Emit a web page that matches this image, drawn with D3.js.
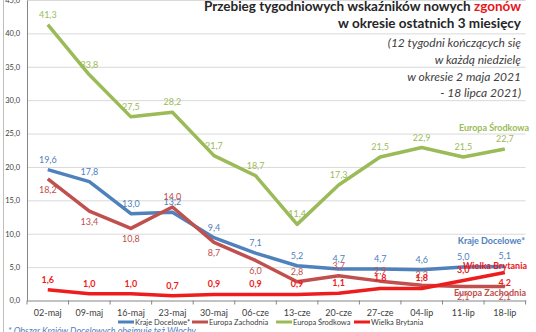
<!DOCTYPE html>
<head>
  <meta charset="utf-8">
  <title>Zgony - wskazniki tygodniowe</title>
  <script src="https://cdn.jsdelivr.net/npm/d3@7"></script>
  <style>
    body { margin: 0; background: #fff; }
    text { font-family: Lato, 'Open Sans', sans-serif; }
    .grid line { stroke: #d9d9d9; stroke-width: 1; }
    .grid path { stroke: none; }
  </style>
</head>
<body>
<script>
  // tygodnie (niedziele)
  var weeks = ["02-maj", "09-maj", "16-maj", "23-maj", "30-maj", "06-cze",
               "13-cze", "20-cze", "27-cze", "04-lip", "11-lip", "18-lip"];

  // wartosci serii
  var krajeDocelowe   = [19.6, 17.8, 13.0, 13.2, 9.4, 7.1, 5.2, 4.7, 4.7, 4.6, 5.0, 5.1];
  var europaZachodnia = [18.2, 13.4, 10.8, 14.0, 8.7, 6.0, 2.8, 3.7, 2.9, 2.3, 2.1, 2.1];
  var europaSrodkowa  = [41.3, 33.8, 27.5, 28.2, 21.7, 18.7, 11.4, 17.3, 21.5, 22.9, 21.5, 22.7];
  var wielkaBrytania  = [1.6, 1.0, 1.0, 0.7, 0.9, 0.9, 0.9, 1.1, 1.8, 1.8, 3.0, 4.2];

  var yTicks = [0, 5, 10, 15, 20, 25, 30, 35, 40, 45];

  // gdzie stoi etykieta danych: a = nad punktem, b = pod punktem
  var posKD = "aaaaaaaaaaaa".split("");
  var posEZ = "bbbabbaaaabb".split("");
  var posES = "aaaaaaaaaaaa".split("");
  var posWB = "aaaaaaaaaaab".split("");

  var series = [
    { name: "Kraje Docelowe*",  values: krajeDocelowe,   color: "#4f81bd", pos: posKD, bold: false },
    { name: "Europa Zachodnia", values: europaZachodnia, color: "#c0504d", pos: posEZ, bold: false },
    { name: "Europa Środkowa",  values: europaSrodkowa,  color: "#9bbb59", pos: posES, bold: false },
    { name: "Wielka Brytania",  values: wielkaBrytania,  color: "#ee1c1c", pos: posWB, bold: true }
  ];

  var W = 536, H = 332;
  var plotL = 27, plotR = 525.6, plotT = 0, plotB = 300.5;

  var svg = d3.select("body").append("svg")
    .attr("width", W)
    .attr("height", H);

  // ramka wykresu (lewa krawedz)
  svg.append("line")
    .attr("x1", 3.5).attr("x2", 3.5).attr("y1", 0).attr("y2", H)
    .attr("stroke", "#bfbfbf");

  var x = d3.scaleBand().domain(weeks).range([plotL, plotR]).padding(0);
  var y = d3.scaleLinear().domain([0, 45]).range([plotB, plotT]);
  var cx = function (i) { return x(weeks[i]) + x.bandwidth() / 2; };

  // siatka
  svg.append("g")
    .attr("class", "grid")
    .attr("transform", "translate(" + plotL + ",0)")
    .call(d3.axisLeft(y).tickValues(yTicks.slice(1)).tickSize(-(plotR - plotL)).tickFormat(""));

  // os Y
  var fmt = function (v) { return d3.format(".1f")(v).replace(".", ","); };
  var yAxis = svg.append("g")
    .attr("transform", "translate(" + plotL + ",0)")
    .call(d3.axisLeft(y).tickValues(yTicks).tickSize(0).tickPadding(7).tickFormat(fmt));
  yAxis.select(".domain").attr("stroke", "#868686");
  yAxis.selectAll("text")
    .style("font-size", "7.5px")
    .style("fill", "#404040");

  // os X
  var xAxis = svg.append("g")
    .attr("transform", "translate(0," + plotB + ")")
    .call(d3.axisBottom(x).tickSize(0).tickPadding(9));
  xAxis.select(".domain").attr("stroke", "#868686");
  xAxis.selectAll("text")
    .style("font-size", "9px")
    .style("fill", "#404040");
  // kreski podzialki na granicach kategorii
  svg.append("g").selectAll("line")
    .data(d3.range(weeks.length + 1))
    .enter().append("line")
    .attr("x1", function (i) { return plotL + i * x.bandwidth(); })
    .attr("x2", function (i) { return plotL + i * x.bandwidth(); })
    .attr("y1", plotB)
    .attr("y2", plotB + 4)
    .attr("stroke", "#868686");

  // linie
  var line = d3.line()
    .x(function (d, i) { return cx(i); })
    .y(function (d) { return y(d); });

  svg.append("g").selectAll("path")
    .data(series)
    .enter().append("path")
    .attr("d", function (s) { return line(s.values); })
    .attr("fill", "none")
    .attr("stroke", function (s) { return s.color; })
    .attr("stroke-width", 3.5)
    .attr("stroke-linejoin", "round");

  // etykiety danych
  series.forEach(function (s) {
    svg.append("g").selectAll("text")
      .data(s.values)
      .enter().append("text")
      .attr("x", function (d, i) { return cx(i); })
      .attr("y", function (d, i) { return y(d) + (s.pos[i] === "a" ? -7 : 14); })
      .attr("text-anchor", "middle")
      .style("font-size", "9px")
      .style("font-weight", s.bold ? 700 : 400)
      .style("fill", s.color)
      .text(fmt);
  });

  // podpisy serii przy koncu linii
  var endLabels = [
    { t: "Europa Środkowa",  x: 529, y: 131, c: "#9bbb59" },
    { t: "Kraje Docelowe*",  x: 525, y: 244, c: "#4f81bd" },
    { t: "Wielka Brytania",  x: 527, y: 269, c: "#ee1c1c" },
    { t: "Europa Zachodnia", x: 526, y: 296, c: "#c0504d" }
  ];
  svg.append("g").selectAll("text")
    .data(endLabels)
    .enter().append("text")
    .attr("x", function (d) { return d.x; })
    .attr("y", function (d) { return d.y; })
    .attr("text-anchor", "end")
    .style("font-size", "9px")
    .style("font-weight", 700)
    .style("fill", function (d) { return d.c; })
    .text(function (d) { return d.t; });

  // tytul
  var title = svg.append("text")
    .attr("x", 521).attr("y", 11)
    .attr("text-anchor", "end")
    .style("font-size", "13.5px")
    .style("font-weight", 700)
    .style("fill", "#262626");
  title.append("tspan").text("Przebieg tygodniowych wskaźników nowych ");
  title.append("tspan").style("fill", "#e8161b").text("zgonów");

  svg.append("text")
    .attr("x", 521).attr("y", 28)
    .attr("text-anchor", "end")
    .style("font-size", "13.5px")
    .style("font-weight", 700)
    .style("fill", "#262626")
    .text("w okresie ostatnich 3 miesięcy");

  var sub = ["(12 tygodni kończących się", "w każdą niedzielę", "w okresie 2 maja 2021", "- 18 lipca 2021)"];
  svg.append("g").selectAll("text")
    .data(sub)
    .enter().append("text")
    .attr("x", 521)
    .attr("y", function (d, i) { return 47 + i * 16.8; })
    .attr("text-anchor", "end")
    .style("font-size", "12px")
    .style("font-style", "italic")
    .style("fill", "#404040")
    .text(function (d) { return d; });

  // legenda
  var legendX = [118, 192, 276, 354];
  var leg = svg.append("g").selectAll("g")
    .data(series)
    .enter().append("g")
    .attr("transform", function (d, i) { return "translate(" + legendX[i] + ",322)"; });
  leg.append("line")
    .attr("x1", 0).attr("x2", 16)
    .attr("stroke", function (d) { return d.color; })
    .attr("stroke-width", 3);
  leg.append("text")
    .attr("x", 17).attr("y", 2.8)
    .style("font-size", "7.5px")
    .style("fill", "#404040")
    .text(function (d) { return d.name; });

  // przypis
  svg.append("text")
    .attr("x", 8).attr("y", 334)
    .style("font-size", "9px")
    .style("font-style", "italic")
    .style("fill", "#4f81bd")
    .text("* Obszar Krajów Docelowych obejmuje też Włochy");
</script>
</body>
